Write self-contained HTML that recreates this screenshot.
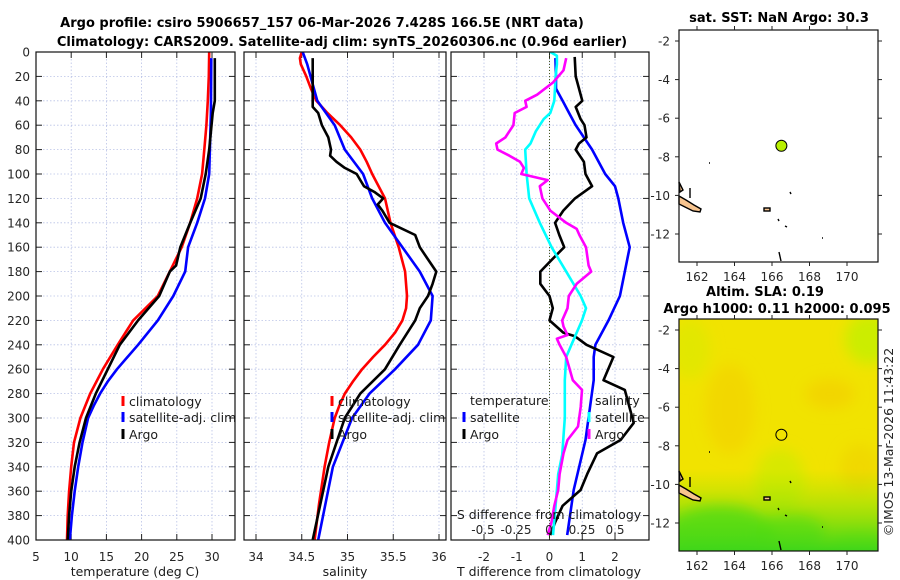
<!DOCTYPE html>
<html><head><meta charset="utf-8">
<style>
html,body{margin:0;padding:0;background:#fff;}
svg{display:block;font-family:"DejaVu Sans","Liberation Sans",sans-serif;}
.tk{font-size:12px;fill:#262626;}
.lg{font-size:12.5px;fill:#1a1a1a;}
.tt{font-size:13px;font-weight:bold;fill:#000;}
</style></head>
<body>
<svg id="fig" width="900" height="580" viewBox="0 0 900 580" xmlns="http://www.w3.org/2000/svg">
<defs>
<clipPath id="c1"><rect x="36" y="52" width="199" height="488"/></clipPath>
<clipPath id="c2"><rect x="244" y="52" width="202" height="488"/></clipPath>
<clipPath id="c3"><rect x="451" y="52" width="198" height="488"/></clipPath>
<clipPath id="cm2"><rect x="679" y="319" width="199" height="232"/></clipPath>
<filter id="blur"><feGaussianBlur stdDeviation="7"/></filter>
<linearGradient id="gv" x1="0" y1="0" x2="0" y2="1">
<stop offset="0" stop-color="#8ee800" stop-opacity="0"/>
<stop offset="1" stop-color="#3ed61a" stop-opacity="1"/>
</linearGradient>
</defs>
<text class="tt" x="322" y="27" text-anchor="middle">Argo profile: csiro 5906657_157 06-Mar-2026 7.428S 166.5E (NRT data)</text>
<text class="tt" x="342" y="46" text-anchor="middle">Climatology: CARS2009. Satellite-adj clim: synTS_20260306.nc (0.96d earlier)</text>
<g id="plots"></g>
<g id="maps"></g>
<text x="893" y="442" transform="rotate(-90 893 442)" text-anchor="middle" class="tk" style="font-size:12.5px">©IMOS 13-Mar-2026 11:43:22</text>
</svg>
<script>
// ---- data ----
const depthTClim = [0,20,40,60,80,100,120,140,160,180,200,220,240,260,280,300,320,340,360,380,400];
const tClim      = [29.6,29.55,29.4,29.2,28.9,28.6,27.9,26.9,25.7,24.0,22.3,18.8,16.6,14.5,12.7,11.3,10.4,10.0,9.7,9.5,9.4];
const depthTSat  = [5,50,100,120,140,160,180,200,220,240,250,260,270,280,290,300,320,340,360,380,400];
const tSat       = [29.9,29.85,29.6,29.0,27.9,26.6,26.2,24.5,22.3,19.5,18.0,16.5,15.2,14.1,13.2,12.4,11.6,11.0,10.5,10.1,9.8];
const depthTArgo = [5,40,50,80,100,120,140,160,175,180,200,220,240,260,280,300,320,340,360,380,400];
const tArgo      = [30.4,30.4,30.1,29.6,29.1,28.4,26.9,25.5,24.9,24.0,22.5,19.5,16.9,15.2,13.5,12.1,11.2,10.5,10.0,9.7,9.5];

const depthSClim = [0,5,10,20,30,40,50,60,70,80,90,100,120,140,160,180,200,210,220,230,240,250,260,270,280,290,300,320,340,370,400];
const sClim      = [34.50,34.48,34.49,34.55,34.60,34.66,34.78,34.92,35.04,35.14,35.21,35.27,35.41,35.47,35.56,35.63,35.65,35.64,35.60,35.52,35.41,35.28,35.16,35.06,34.97,34.91,34.86,34.80,34.75,34.69,34.64];
const depthSSat  = [0,10,40,60,80,100,120,140,160,180,200,220,240,260,280,300,340,400];
const sSat       = [34.51,34.56,34.67,34.86,34.97,35.17,35.27,35.41,35.60,35.79,35.93,35.91,35.77,35.52,35.24,35.05,34.84,34.68];
const depthSArgo = [5,45,50,60,70,80,85,90,95,100,105,110,115,120,125,130,140,150,160,170,180,190,200,210,220,240,260,280,300,340,400];
const sArgo      = [34.62,34.62,34.68,34.72,34.79,34.82,34.81,34.88,34.97,35.10,35.14,35.18,35.30,35.39,35.33,35.38,35.46,35.74,35.79,35.88,35.97,35.93,35.88,35.79,35.74,35.57,35.41,35.14,34.97,34.79,34.62];

const depthDTSat  = [5,20,30,40,50,60,80,100,110,120,140,160,180,200,220,240,250,269,318,359,396];
const dTSat       = [0.18,0.2,0.2,0.4,0.6,0.8,1.3,1.7,2.0,2.1,2.25,2.45,2.3,2.15,1.8,1.4,1.35,1.35,1.1,0.74,0.54];
const depthDTArgo = [4,20,40,45,55,60,70,75,80,90,100,110,120,130,140,150,160,170,180,190,200,210,220,230,233,240,250,269,277,304,318,329,346,359,372,385,396];
const dTArgo      = [0.77,0.8,1.0,0.8,0.95,1.07,1.13,0.9,0.8,1.05,1.1,1.3,0.78,0.42,0.17,0.3,0.45,0.08,-0.28,-0.28,0.0,0.1,0.0,0.42,0.78,1.13,1.95,1.65,2.3,2.57,2.17,1.45,1.15,0.95,0.4,0.18,0.02];
const depthDSSat  = [0,3,10,20,40,50,55,65,75,80,100,120,140,160,180,200,210,220,240,250,269,300,330,346,372,396];
const dSSat       = [0.01,0.06,0.06,0.05,0.04,0.01,-0.04,-0.1,-0.14,-0.18,-0.17,-0.15,-0.07,0.02,0.13,0.24,0.28,0.25,0.17,0.13,0.12,0.12,0.1,0.07,0.05,0.03];
const depthDSArgo = [5,15,25,35,40,45,50,60,70,75,80,85,90,95,100,105,110,120,130,140,145,150,160,175,180,190,200,210,220,225,232,235,240,250,269,277,291,307,318,329,346,359,372,385,396];
const dSArgo      = [0.13,0.11,0.03,-0.09,-0.18,-0.17,-0.26,-0.27,-0.33,-0.4,-0.39,-0.3,-0.22,-0.19,-0.21,-0.01,-0.07,-0.05,0.01,0.13,0.21,0.23,0.28,0.3,0.32,0.21,0.15,0.14,0.1,0.11,0.14,0.06,0.08,0.13,0.18,0.25,0.24,0.22,0.14,0.11,0.08,0.07,0.04,0.02,-0.01];

const yTicks = [0,20,40,60,80,100,120,140,160,180,200,220,240,260,280,300,320,340,360,380,400];
const p1Ticks = [5,10,15,20,25,30];
const p2Ticks = [34,34.5,35,35.5,36];
const p2Labels = ['34','34.5','35','35.5','36'];
const p3Ticks = [-2,-1,0,1,2];
const p3STicks = [-0.5,-0.25,0,0.25,0.5];
const p3SLabels = ['-0.5','-0.25','0','0.25','0.5'];

const lonTicks = [162,164,166,168,170];
const latTicks = [-2,-4,-6,-8,-10,-12];
const argoLon = [166.5];
const argoLat = [-7.43];

// ---- helpers ----
const NS = 'http://www.w3.org/2000/svg';
function mk(tag, attrs, parent){
  const e = document.createElementNS(NS, tag);
  for (const k in attrs) e.setAttribute(k, attrs[k]);
  parent.appendChild(e);
  return e;
}
const Y0 = 52, Y1 = 540;
function yDepth(d){ return Y0 + (d/400)*(Y1-Y0); }
function lin(d0,d1,r0,r1){ return v => r0 + (v-d0)/(d1-d0)*(r1-r0); }

const plots = document.getElementById('plots');
const panels = [
  {name:'temperature', x0:36, x1:235, sx: lin(5,30,36,212), clip:'c1'},
  {name:'salinity', x0:244, x1:446, sx: lin(34,36,256,439), clip:'c2'},
  {name:'difference', x0:451, x1:649, sx: lin(-2,2,484,615), clip:'c3'}
];
const sxS3 = lin(-0.5,0.5,483,615);

function drawFrame(p, ticks, labels, idx){
  const g = mk('g', {}, plots);
  
  
  ticks.forEach(t => {
    const x = p.sx(t);
    const l = mk('line', {x1:x, x2:x, y1:Y0, y2:Y1, stroke:'#b9c2e6', 'stroke-width':0.8, 'stroke-dasharray':'1.5,2'}, g);
    
    
  });
  yTicks.forEach(t => {
    const y = yDepth(t);
    const l = mk('line', {x1:p.x0, x2:p.x1, y1:y, y2:y, stroke:'#b9c2e6', 'stroke-width':0.8, 'stroke-dasharray':'1.5,2'}, g);
    
    
    mk('line', {x1:p.x0, x2:p.x0+6, y1:y, y2:y, stroke:'#222', 'stroke-width':1}, g);
    mk('line', {x1:p.x1-6, x2:p.x1, y1:y, y2:y, stroke:'#222', 'stroke-width':1}, g);
    if (idx === 0) {
      const tx = mk('text', {x:p.x0-6, y:y+4.5, 'text-anchor':'end', class:'tk'}, g);
      
      
      tx.textContent = t;
    }
  });
  ticks.forEach((t,i) => {
    const x = p.sx(t);
    mk('line', {x1:x, x2:x, y1:Y1, y2:Y1-6, stroke:'#222', 'stroke-width':1}, g);
    mk('line', {x1:x, x2:x, y1:Y0, y2:Y0+6, stroke:'#222', 'stroke-width':1}, g);
    const tx = mk('text', {x:x, y:561, 'text-anchor':'middle', class:'tk'}, g);
    
    
    tx.textContent = labels[i];
  });
  return g;
}
function drawLine(g, p, sx, depths, vals, color, name){
  const pts = depths.map((d,i) => sx(vals[i]).toFixed(1)+','+yDepth(d).toFixed(1)).join(' ');
  const pl = mk('polyline', {points:pts, fill:'none', stroke:color, 'stroke-width':2.6, 'stroke-linejoin':'round', 'clip-path':'url(#'+p.clip+')'}, g);
  
  
}
function legendEntry(g, mx, y, color, label){
  const eg = mk('g', {}, g);
  
  
  if (color) mk('rect', {x:mx-1.5, y:y-10, width:3, height:10, fill:color}, eg);
  const t = mk('text', {x:mx+6, y:y, class:'lg'}, eg);
  t.textContent = label;
}
function box(g,p){
  const r = mk('rect', {x:p.x0, y:Y0, width:p.x1-p.x0, height:Y1-Y0, fill:'none', stroke:'#111', 'stroke-width':1.2}, g);
  
  
}

// Panel 1
let g1 = drawFrame(panels[0], p1Ticks, p1Ticks.map(String), 0);
drawLine(g1, panels[0], panels[0].sx, depthTClim, tClim, '#ff0000', 'temperature-climatology-line');
drawLine(g1, panels[0], panels[0].sx, depthTSat, tSat, '#0000ff', 'temperature-satellite-line');
drawLine(g1, panels[0], panels[0].sx, depthTArgo, tArgo, '#000000', 'temperature-argo-line');
legendEntry(g1, 123, 406, '#ff0000', 'climatology');
legendEntry(g1, 123, 422, '#0000ff', 'satellite-adj. clim');
legendEntry(g1, 123, 439, '#000000', 'Argo');
box(g1, panels[0]);
let xt1 = mk('text', {x:135, y:576, 'text-anchor':'middle', class:'lg'}, g1);


xt1.textContent = 'temperature (deg C)';

// Panel 2
let g2 = drawFrame(panels[1], p2Ticks, p2Labels, 1);
drawLine(g2, panels[1], panels[1].sx, depthSClim, sClim, '#ff0000', 'salinity-climatology-line');
drawLine(g2, panels[1], panels[1].sx, depthSSat, sSat, '#0000ff', 'salinity-satellite-line');
drawLine(g2, panels[1], panels[1].sx, depthSArgo, sArgo, '#000000', 'salinity-argo-line');
legendEntry(g2, 332, 406, '#ff0000', 'climatology');
legendEntry(g2, 332, 422, '#0000ff', 'satellite-adj. clim');
legendEntry(g2, 332, 439, '#000000', 'Argo');
box(g2, panels[1]);
let xt2 = mk('text', {x:345, y:576, 'text-anchor':'middle', class:'lg'}, g2);


xt2.textContent = 'salinity';

// Panel 3
let g3 = drawFrame(panels[2], p3Ticks, p3Ticks.map(String), 2);
let zl = mk('line', {x1:panels[2].sx(0), x2:panels[2].sx(0), y1:Y0, y2:Y1, stroke:'#4a5a20', 'stroke-width':1, 'stroke-dasharray':'1,2'}, g3);


drawLine(g3, panels[2], panels[2].sx, depthDTSat, dTSat, '#0000ff', 'temp-diff-satellite-line');
drawLine(g3, panels[2], panels[2].sx, depthDTArgo, dTArgo, '#000000', 'temp-diff-argo-line');
drawLine(g3, panels[2], sxS3, depthDSSat, dSSat, '#00ffff', 'sal-diff-satellite-line');
drawLine(g3, panels[2], sxS3, depthDSArgo, dSArgo, '#ff00ff', 'sal-diff-argo-line');
legendEntry(g3, 464, 405, null, 'temperature');
legendEntry(g3, 464, 422, '#0000ff', 'satellite');
legendEntry(g3, 464, 439, '#000000', 'Argo');
legendEntry(g3, 589, 405, null, 'salinity');
legendEntry(g3, 589, 422, '#00ffff', 'satellite');
legendEntry(g3, 589, 439, '#ff00ff', 'Argo');
let st = mk('text', {x:549, y:519, 'text-anchor':'middle', class:'lg'}, g3);


st.textContent = 'S difference from climatology';
p3STicks.forEach((t,i) => {
  const tx = mk('text', {x:sxS3(t), y:534, 'text-anchor':'middle', class:'tk'}, g3);
  
  
  tx.textContent = p3SLabels[i];
});
box(g3, panels[2]);
let xt3 = mk('text', {x:549, y:576, 'text-anchor':'middle', class:'lg'}, g3);


xt3.textContent = 'T difference from climatology';

// ---- maps ----
const maps = document.getElementById('maps');
const mapLon = lin(162,170,697,847);
function drawMap(top, titleLines, name, field){
  const mlat = lin(-2,-12,top+11,top+204);
  const g = mk('g', {}, maps);
  
  
  titleLines.forEach((s,i) => {
    const t = mk('text', {x:s[1], y:s[2], 'text-anchor':'middle', class:'tt'}, g);
    
    
    t.textContent = s[0];
  });
  if (field) {
    const fg = mk('g', {'clip-path':'url(#cm2)'}, g);
    
    
    mk('rect', {x:679, y:top, width:199, height:232, fill:'#f1e300'}, fg);
    const bl = mk('g', {filter:'url(#blur)'}, fg);
    mk('ellipse', {cx:730, cy:top+90, rx:25, ry:45, fill:'#f3d500', opacity:0.8}, bl);
    mk('ellipse', {cx:830, cy:top+75, rx:25, ry:15, fill:'#f3d200', opacity:0.8}, bl);
    mk('ellipse', {cx:860, cy:top+150, rx:20, ry:25, fill:'#f0d400', opacity:0.7}, bl);
    mk('ellipse', {cx:870, cy:top+20, rx:25, ry:25, fill:'#c8ee00', opacity:0.9}, bl);
    mk('ellipse', {cx:690, cy:top+30, rx:20, ry:30, fill:'#dfe800', opacity:0.8}, bl);
    mk('ellipse', {cx:780, cy:top+160, rx:25, ry:30, fill:'#d2ea00', opacity:0.8}, bl);
    mk('rect', {x:679, y:top+150, width:199, height:82, fill:'url(#gv)'}, fg);
    mk('ellipse', {cx:720, cy:top+215, rx:55, ry:28, fill:'#3cd81a', opacity:0.8}, bl);
    mk('ellipse', {cx:790, cy:top+215, rx:35, ry:20, fill:'#55dd10', opacity:0.7}, bl);
    mk('ellipse', {cx:860, cy:top+225, rx:30, ry:12, fill:'#8ae600', opacity:0.6}, bl);
  }
  const land = mk('g', {stroke:'#000', 'stroke-width':1.4}, g);
  
  
  mk('path', {d:'M679,'+(top+166)+' L686,'+(top+170)+' L694,'+(top+175)+' L701,'+(top+179)+' L700,'+(top+182)+' L693,'+(top+181)+' L685,'+(top+177)+' L679,'+(top+174)+' Z', fill:'#f7c48f'}, land);
  mk('path', {d:'M679,'+(top+152)+' L683,'+(top+160)+' L680,'+(top+162)+' Z', fill:'#f7c48f'}, land);
  mk('line', {x1:690, y1:top+158, x2:690, y2:top+168}, land);
  mk('rect', {x:764, y:top+178, width:6, height:3, fill:'#f7c48f'}, land);
  mk('line', {x1:778, y1:top+189, x2:779, y2:top+191}, land);
  mk('line', {x1:785, y1:top+196, x2:787, y2:top+197}, land);
  mk('line', {x1:779, y1:top+222, x2:781, y2:top+231}, land);
  mk('line', {x1:790, y1:top+162, x2:791, y2:top+164}, land);
  mk('line', {x1:709, y1:top+133, x2:710, y2:top+133}, land);
  mk('line', {x1:822, y1:top+208, x2:823, y2:top+208}, land);
  argoLon.forEach((lo,i) => {
    const c = mk('circle', {cx:mapLon(lo), cy:mlat(argoLat[i]), r:5.5, fill: field ? 'none' : '#b8f000', stroke:'#000', 'stroke-width':1}, g);
    
    
  });
  const r = mk('rect', {x:679, y:top, width:199, height:232, fill:'none', stroke:'#111', 'stroke-width':1.2}, g);
  
  
  latTicks.forEach(t => {
    const y = mlat(t);
    mk('line', {x1:679, x2:675, y1:y, y2:y, stroke:'#222'}, g);
    mk('line', {x1:878, x2:882, y1:y, y2:y, stroke:'#222'}, g);
    const tx = mk('text', {x:670, y:y+4.5, 'text-anchor':'end', class:'tk'}, g);
    
    
    tx.textContent = t;
  });
  lonTicks.forEach(t => {
    const x = mapLon(t);
    mk('line', {x1:x, x2:x, y1:top, y2:top-4, stroke:'#222'}, g);
    mk('line', {x1:x, x2:x, y1:top+232, y2:top+236, stroke:'#222'}, g);
    const tx = mk('text', {x:x, y:top+251, 'text-anchor':'middle', class:'tk'}, g);
    
    
    tx.textContent = t;
  });
}
drawMap(30, [['sat. SST: NaN Argo: 30.3', 779, 22]], 'sst-map', false);
drawMap(319, [['Altim. SLA: 0.19', 765, 296], ['Argo h1000: 0.11 h2000: 0.095', 777, 313]], 'sla-map', true);
</script>
</body></html>
